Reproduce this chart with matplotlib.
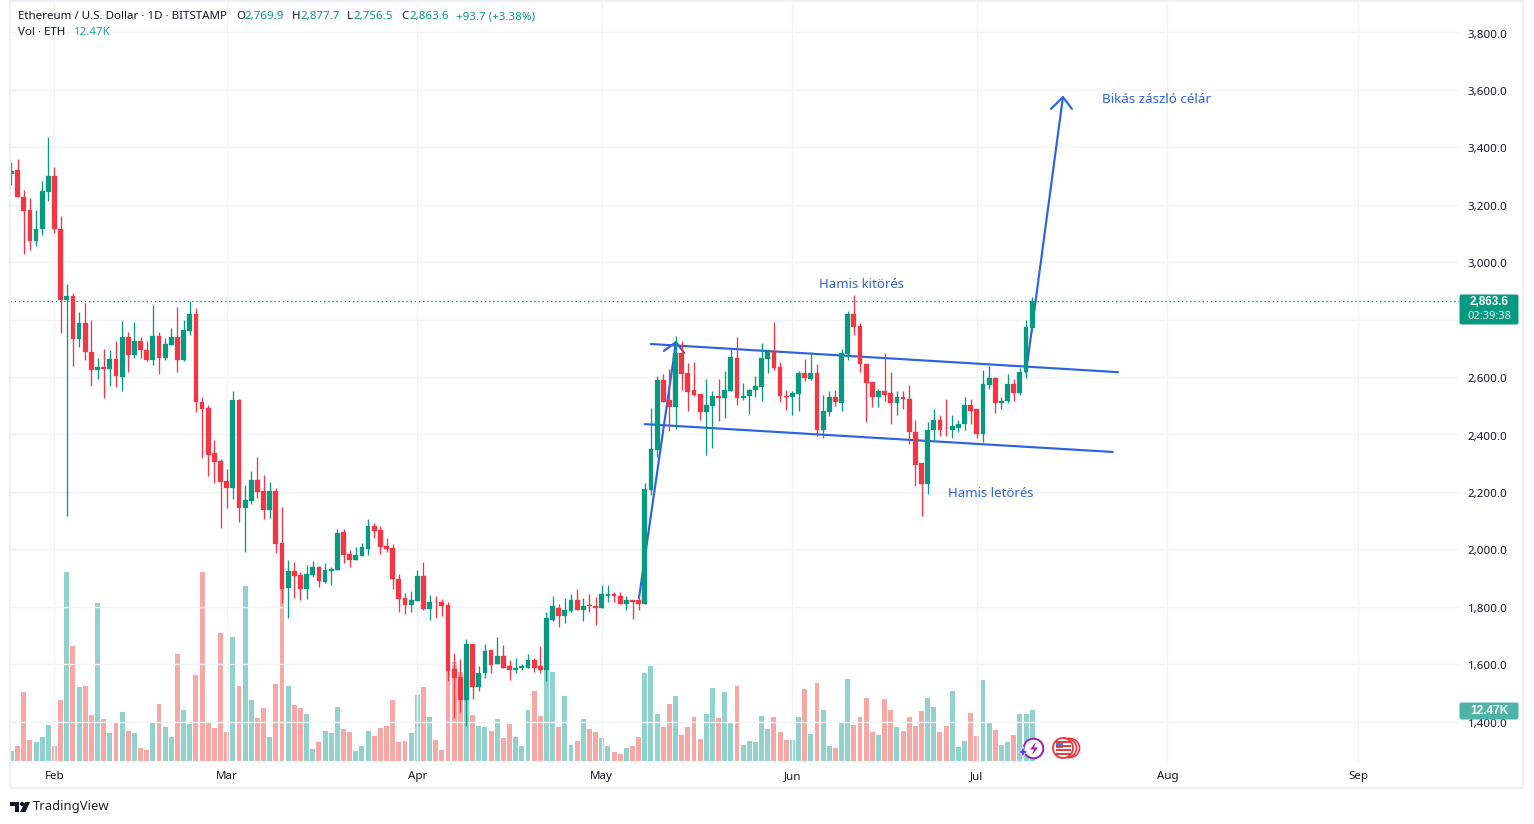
import numpy as np
import matplotlib
matplotlib.use("Agg")
import matplotlib.pyplot as plt
from matplotlib.patches import Rectangle, FancyBboxPatch, Circle, Polygon
from matplotlib.transforms import ScaledTranslation

plt.rcParams['font.family'] = ['Noto Sans', 'DejaVu Sans']

first_day = -7  # 25 Jan, days are counted from 1 Feb
opens = [3308,3321,3227,3182,3075,3114,3246,
 3300,3116,2867,2883,2731,2789,2688,2623,2636,2627,
 2664,2599,2740,2675,2726,2695,2661,2744,2668,2713,
 2740,2661,2762,2820,2512,2492,2335,2307,2238,2215,
 2519,2145,2169,2241,2203,2138,2203,2022,1866,1925,
 1911,1862,1911,1939,1886,1925,1928,2060,1984,1963,
 1978,2001,2081,2067,2012,2005,1897,1831,1806,1821,
 1907,1792,1818,1817,1806,1584,1556,1474,1671,1522,
 1568,1648,1599,1627,1592,1578,1585,1588,1616,1592,
 1578,1755,1797,1769,1786,1825,1790,1805,1801,1794,
 1839,1846,1836,1808,1822,1822,1811,2207,2345,2589,
 2519,2495,2683,2613,2554,2540,2477,2498,2533,2526,
 2550,2665,2526,2533,2554,2564,2662,2686,2634,2533,
 2529,2540,2613,2592,2613,2415,2477,2529,2509,2679,
 2818,2776,2647,2581,2532,2550,2546,2508,2529,2525,
 2410,2302,2229,2414,2452,2424,2417,2424,2438,2504,
 2487,2403,2571,2595,2508,2518,2574,2543,2616,2769.9]
highs = [3348,3360,3252,3224,3182,3283,3435,
 3332,3161,2925,2893,2827,2859,2799,2667,2699,2695,
 2726,2796,2758,2792,2740,2726,2852,2758,2737,2772,
 2845,2799,2866,2841,2530,2502,2380,2314,2280,2551,
 2523,2224,2272,2321,2259,2234,2213,2147,1963,1956,
 1921,1946,1960,1942,1952,1939,2071,2071,1998,2008,
 2022,2106,2092,2081,2039,2019,1914,1848,1855,1928,
 1956,1841,1839,1827,1817,1640,1619,1688,1671,1594,
 1671,1650,1693,1665,1616,1620,1602,1634,1623,1662,
 1780,1839,1808,1832,1843,1860,1832,1846,1834,1877,
 1874,1853,1853,1836,1825,1853,2230,2491,2603,2610,
 2627,2742,2724,2648,2651,2540,2592,2550,2592,2620,
 2697,2738,2578,2557,2603,2717,2697,2790,2651,2554,
 2550,2620,2662,2686,2644,2536,2550,2554,2697,2829,
 2885,2787,2647,2581,2560,2682,2619,2550,2550,2571,
 2452,2302,2442,2487,2469,2525,2469,2452,2529,2525,
 2487,2623,2640,2599,2532,2609,2592,2630,2797,2877.7]
lows = [3270,3228,3027,3041,3058,3093,3214,
 3103,2752,2116,2637,2703,2658,2568,2592,2526,2568,
 2564,2550,2616,2668,2668,2655,2641,2609,2658,2710,
 2616,2656,2748,2477,2319,2256,2232,2075,2145,2176,
 2096,1992,2159,2180,2107,2110,1988,1814,1759,1832,
 1825,1828,1904,1867,1884,1877,1928,1954,1940,1963,
 1978,1981,2039,1985,1992,1863,1780,1773,1780,1821,
 1787,1752,1762,1766,1543,1413,1435,1385,1477,1508,
 1550,1569,1599,1588,1544,1569,1579,1588,1572,1569,
 1543,1749,1728,1742,1783,1787,1749,1783,1738,1794,
 1818,1815,1808,1787,1756,1790,1811,2190,2321,2513,
 2411,2418,2554,2481,2533,2449,2329,2352,2446,2456,
 2550,2502,2519,2470,2529,2516,2613,2623,2512,2484,
 2467,2481,2585,2589,2394,2387,2463,2498,2481,2658,
 2745,2619,2442,2494,2494,2518,2438,2469,2487,2368,
 2222,2117,2194,2379,2393,2396,2386,2410,2417,2435,
 2386,2375,2560,2476,2490,2508,2518,2539,2595,2756.5]
closes = [3318,3228,3180,3075,3116,3248,3300,
 3114,2867,2883,2731,2789,2686,2623,2636,2627,2664,
 2602,2740,2675,2726,2693,2660,2744,2668,2716,2740,
 2658,2765,2820,2512,2489,2329,2305,2235,2215,2519,
 2145,2172,2241,2200,2138,2203,2020,1863,1925,1907,
 1862,1914,1939,1888,1928,1932,2057,1980,1963,1980,
 2008,2081,2064,2009,2000,1895,1827,1806,1824,1907,
 1792,1817,1815,1803,1577,1550,1474,1671,1522,1570,
 1646,1597,1627,1588,1578,1588,1592,1616,1588,1578,
 1759,1801,1769,1790,1825,1790,1804,1802,1795,1843,
 1846,1836,1808,1822,1815,1810,2211,2349,2589,2513,
 2496,2683,2610,2548,2536,2477,2502,2533,2526,2554,
 2669,2526,2533,2554,2568,2665,2686,2630,2533,2531,
 2543,2613,2596,2613,2415,2481,2529,2512,2683,2818,
 2773,2644,2578,2532,2550,2536,2508,2529,2522,2407,
 2295,2229,2417,2452,2417,2421,2428,2438,2504,2483,
 2403,2574,2595,2508,2518,2574,2543,2619,2773,2863.6]
volumes_k = [2.4,3.6,16.8,5.1,4.6,5.8,8.7,
 3.6,14.8,46.1,28.0,18.0,18.3,11.2,38.5,10.2,6.8,
 9.2,11.9,7.3,6.8,3.1,2.6,9.5,13.9,8.2,5.8,
 26.1,12.4,9.0,20.9,46.1,9.5,8.0,31.2,7.0,30.2,
 18.3,42.7,14.8,10.4,12.9,5.8,18.7,43.0,18.3,13.6,
 12.9,11.4,2.9,4.6,7.3,6.8,13.1,7.7,7.0,2.4,
 3.6,7.3,6.0,8.0,8.5,14.8,4.6,4.8,6.8,16.1,
 18.0,10.7,5.1,2.6,23.4,24.1,21.7,14.8,11.2,8.5,
 8.2,7.3,10.2,5.5,9.0,5.8,3.6,12.4,17.0,10.9,
 22.9,21.7,8.2,15.8,3.8,4.8,10.2,7.7,7.0,5.5,
 3.6,2.1,1.6,3.1,3.6,5.8,21.4,23.1,11.4,8.2,
 13.9,15.8,6.3,8.2,10.7,5.3,11.4,17.8,10.4,16.8,
 9.2,18.3,3.8,4.8,4.6,10.9,7.7,10.7,7.0,5.1,
 5.1,10.7,17.5,6.5,19.0,12.4,3.6,3.1,9.2,20.0,
 8.7,10.7,15.3,7.0,6.3,15.2,12.5,8.3,7.3,10.8,
 8.6,12.2,15.4,13.2,7.1,8.6,17.1,3.4,4.9,11.7,
 6.1,19.8,9.5,7.6,3.9,4.6,6.4,11.5,11.5,12.47]

month_days = [0, 28, 59, 89, 120, 150, 181, 212]
month_labels = ['Feb', 'Mar', 'Apr', 'May', 'Jun', 'Jul', 'Aug', 'Sep']
price_ticks = [1400, 1600, 1800, 2000, 2200, 2400, 2600, 2800, 3000, 3200, 3400, 3600, 3800]
covered_tick = 2800  # hidden behind the last-price badge in the reference

pole_days = [95.05, 101.07]; pole_prices = [1830, 2722]
pole_head_days = [99.1, 101.07, 102.4]; pole_head_prices = [2691, 2722, 2684]
upper_days = [97.0, 172.95]; upper_prices = [2715, 2617]
lower_days = [96.0, 172.1]; lower_prices = [2436, 2339]
target_days = [158.0, 164.0]; target_prices = [2617, 3575]
target_head_days = [162.05, 164.0, 165.47]; target_head_prices = [3534, 3575, 3534]

GREEN, RED = '#089981', '#F23645'
VGREEN, VRED = '#26a69a', '#ef5350'
BLUE = '#2f62e0'
GRID = '#f2f3f5'
INK = '#131722'
W, H = 1534, 824

fig = plt.figure(figsize=(W / 100, H / 100), dpi=100, facecolor='white')
L, R, T, B = 10, 1459, 4, 762
rect = [L / W, 1 - B / H, (R - L) / W, (B - T) / H]

ax = fig.add_axes(rect)
vax = fig.add_axes(rect, sharex=ax)
ax.set_zorder(2); vax.set_zorder(1)
ax.patch.set_visible(False)
vax.set_facecolor('white')

days = first_day + np.arange(len(opens))
o, h, l, c = map(np.array, (opens, highs, lows, closes))
up = c >= o

# scales: 6.149 px per day, 0.2871 px per price unit
ax.set_xlim((L - 54.5) / 6.149, (R - 54.5) / 6.149)
ax.set_ylim(3800 - (B - 32.5) * 3.483, 3800 - (T - 32.5) * 3.483)
vax.set_ylim(-0.25, 185)

# volume pane
vax.bar(days, volumes_k, width=0.8, color=[VGREEN if u else VRED for u in up], alpha=0.5, linewidth=0, zorder=2)
vax.axis('off')

# grid, price axis, time axis
ax.set_xticks(month_days, month_labels)
ax.set_yticks(price_ticks, ['' if p == covered_tick else f'{p:,.1f}' for p in price_ticks])
ax.yaxis.tick_right()
ax.tick_params(axis='y', length=0, pad=35, labelsize=8.3, labelcolor=INK)
ax.tick_params(axis='x', length=0, pad=6.5, labelsize=8.3, labelcolor=INK)
nudge = ScaledTranslation(0, -0.8 / 72, fig.dpi_scale_trans)
for t in ax.get_yticklabels():
    t.set_ha('right')
    t.set_transform(t.get_transform() + nudge)
ax.grid(True, color=GRID, lw=1.0, zorder=0)
ax.set_axisbelow(True)
for s in ax.spines.values():
    s.set_visible(False)

# drawings sit beneath the candles
for xs, ys in [(pole_days, pole_prices), (pole_head_days, pole_head_prices),
               (upper_days, upper_prices), (lower_days, lower_prices),
               (target_days, target_prices), (target_head_days, target_head_prices)]:
    ax.plot(xs, ys, color=BLUE, lw=1.55, solid_capstyle='round', solid_joinstyle='round', zorder=3)

# candles
colors = [GREEN if u else RED for u in up]
ax.vlines(days, l, h, colors=colors, lw=0.95, zorder=4)
ax.bar(days, np.abs(c - o), bottom=np.minimum(o, c), width=0.78, color=colors, linewidth=0.2, edgecolor=colors, zorder=5)

# last price line
ax.axhline(closes[-1], color=GREEN, lw=0.9, ls=(0, (1.1, 2.2)), zorder=3)

# pixel overlay for chart furniture
px = fig.add_axes([0, 0, 1, 1], zorder=5)
px.set_xlim(0, W); px.set_ylim(H, 0)
px.axis('off'); px.patch.set_visible(False)

px.add_patch(Rectangle((10, 1), 1513, 787, fill=False, ec='#eef0f4', lw=1.6))

def txt(x, y, s, color=INK, size=8.3, **kw):
    kw.setdefault('va', 'center'); kw.setdefault('ha', 'left')
    return px.text(x, y, s, color=color, fontsize=size, **kw)

# header
TEAL = '#089981'
HS = 8.3
txt(18, 16.5, 'Ethereum / U.S. Dollar · 1D · BITSTAMP', size=HS)
for x, lab, val, gap in [(236, 'O', '2,769.9', 8.5), (292, 'H', '2,877.7', 8.5), (347, 'L', '2,756.5', 6), (401, 'C', '2,863.6', 8)]:
    txt(x, 16.5, lab, size=HS)
    txt(x + gap, 16.5, val, color=TEAL, size=HS)
txt(456, 16.5, '+93.7 (+3.38%)', color=TEAL, size=HS)
txt(18, 32.5, 'Vol · ETH', size=HS)
txt(74, 32.5, '12.47K', color=VGREEN, size=HS)

# annotations
txt(1102, 99, 'Bikás zászló célár', color=BLUE, size=9.7)
txt(819, 284, 'Hamis kitörés', color=BLUE, size=9.5)
txt(948, 493, 'Hamis letörés', color=BLUE, size=9.5)

# axis badges
px.add_patch(FancyBboxPatch((1459.5, 294.5), 59, 30, boxstyle='round,pad=0,rounding_size=2', fc=GREEN, ec='none'))
txt(1489, 302, '2,863.6', color='white', size=8.4, ha='center', fontweight='bold', family='Liberation Sans')
txt(1489, 316.5, '02:39:38', color='#d8f0eb', size=8.1, ha='center')
px.add_patch(FancyBboxPatch((1459.5, 702.5), 59, 17, boxstyle='round,pad=0,rounding_size=2', fc='#4fb3a7', ec='none'))
txt(1489, 711, '12.47K', color='white', size=8.6, ha='center', fontweight='bold', family='Liberation Sans')

# event icons
px.add_patch(Circle((1033.5, 748.5), 9.8, fc='white', ec='#8e24aa', lw=1.4))
px.add_patch(Polygon([(1036, 742), (1030, 749.5), (1034, 749.5), (1032, 755), (1038, 747.5), (1034, 747.5)], fc='#8e24aa', ec='none'))
px.add_patch(Polygon([(1023, 746.5), (1024.6, 750.4), (1028.2, 752), (1024.6, 753.6), (1023, 757.5), (1021.4, 753.6), (1017.8, 752), (1021.4, 750.4)], fc='#5b3df5', ec='white', lw=0.5))
for cx in (1070, 1067):
    px.add_patch(Circle((cx, 748), 9.5, fc='white', ec='#e5383b', lw=1.2))
px.add_patch(Circle((1063, 748), 10, fc='white', ec='#e5383b', lw=1.3))
for dy in (-6, -2, 2, 6):
    px.plot([1055.5, 1070.5], [748 + dy, 748 + dy], color='#e5383b', lw=1.4, solid_capstyle='butt')
px.add_patch(Rectangle((1056, 741), 7, 7, fc='#3b82e6', ec='none'))

# TradingView mark
px.add_patch(Polygon([(10, 802), (19, 802), (19, 812), (14.5, 812), (14.5, 806), (10, 806)], fc=INK, ec='none'))
px.add_patch(Circle((22, 804), 2.1, fc=INK, ec='none'))
px.add_patch(Polygon([(25, 802), (30, 802), (25.5, 812), (20, 812)], fc=INK, ec='none'))
txt(33, 806.5, 'TradingView', size=9.4, color='#222')

fig.savefig('out.png', dpi=100, facecolor='white')
